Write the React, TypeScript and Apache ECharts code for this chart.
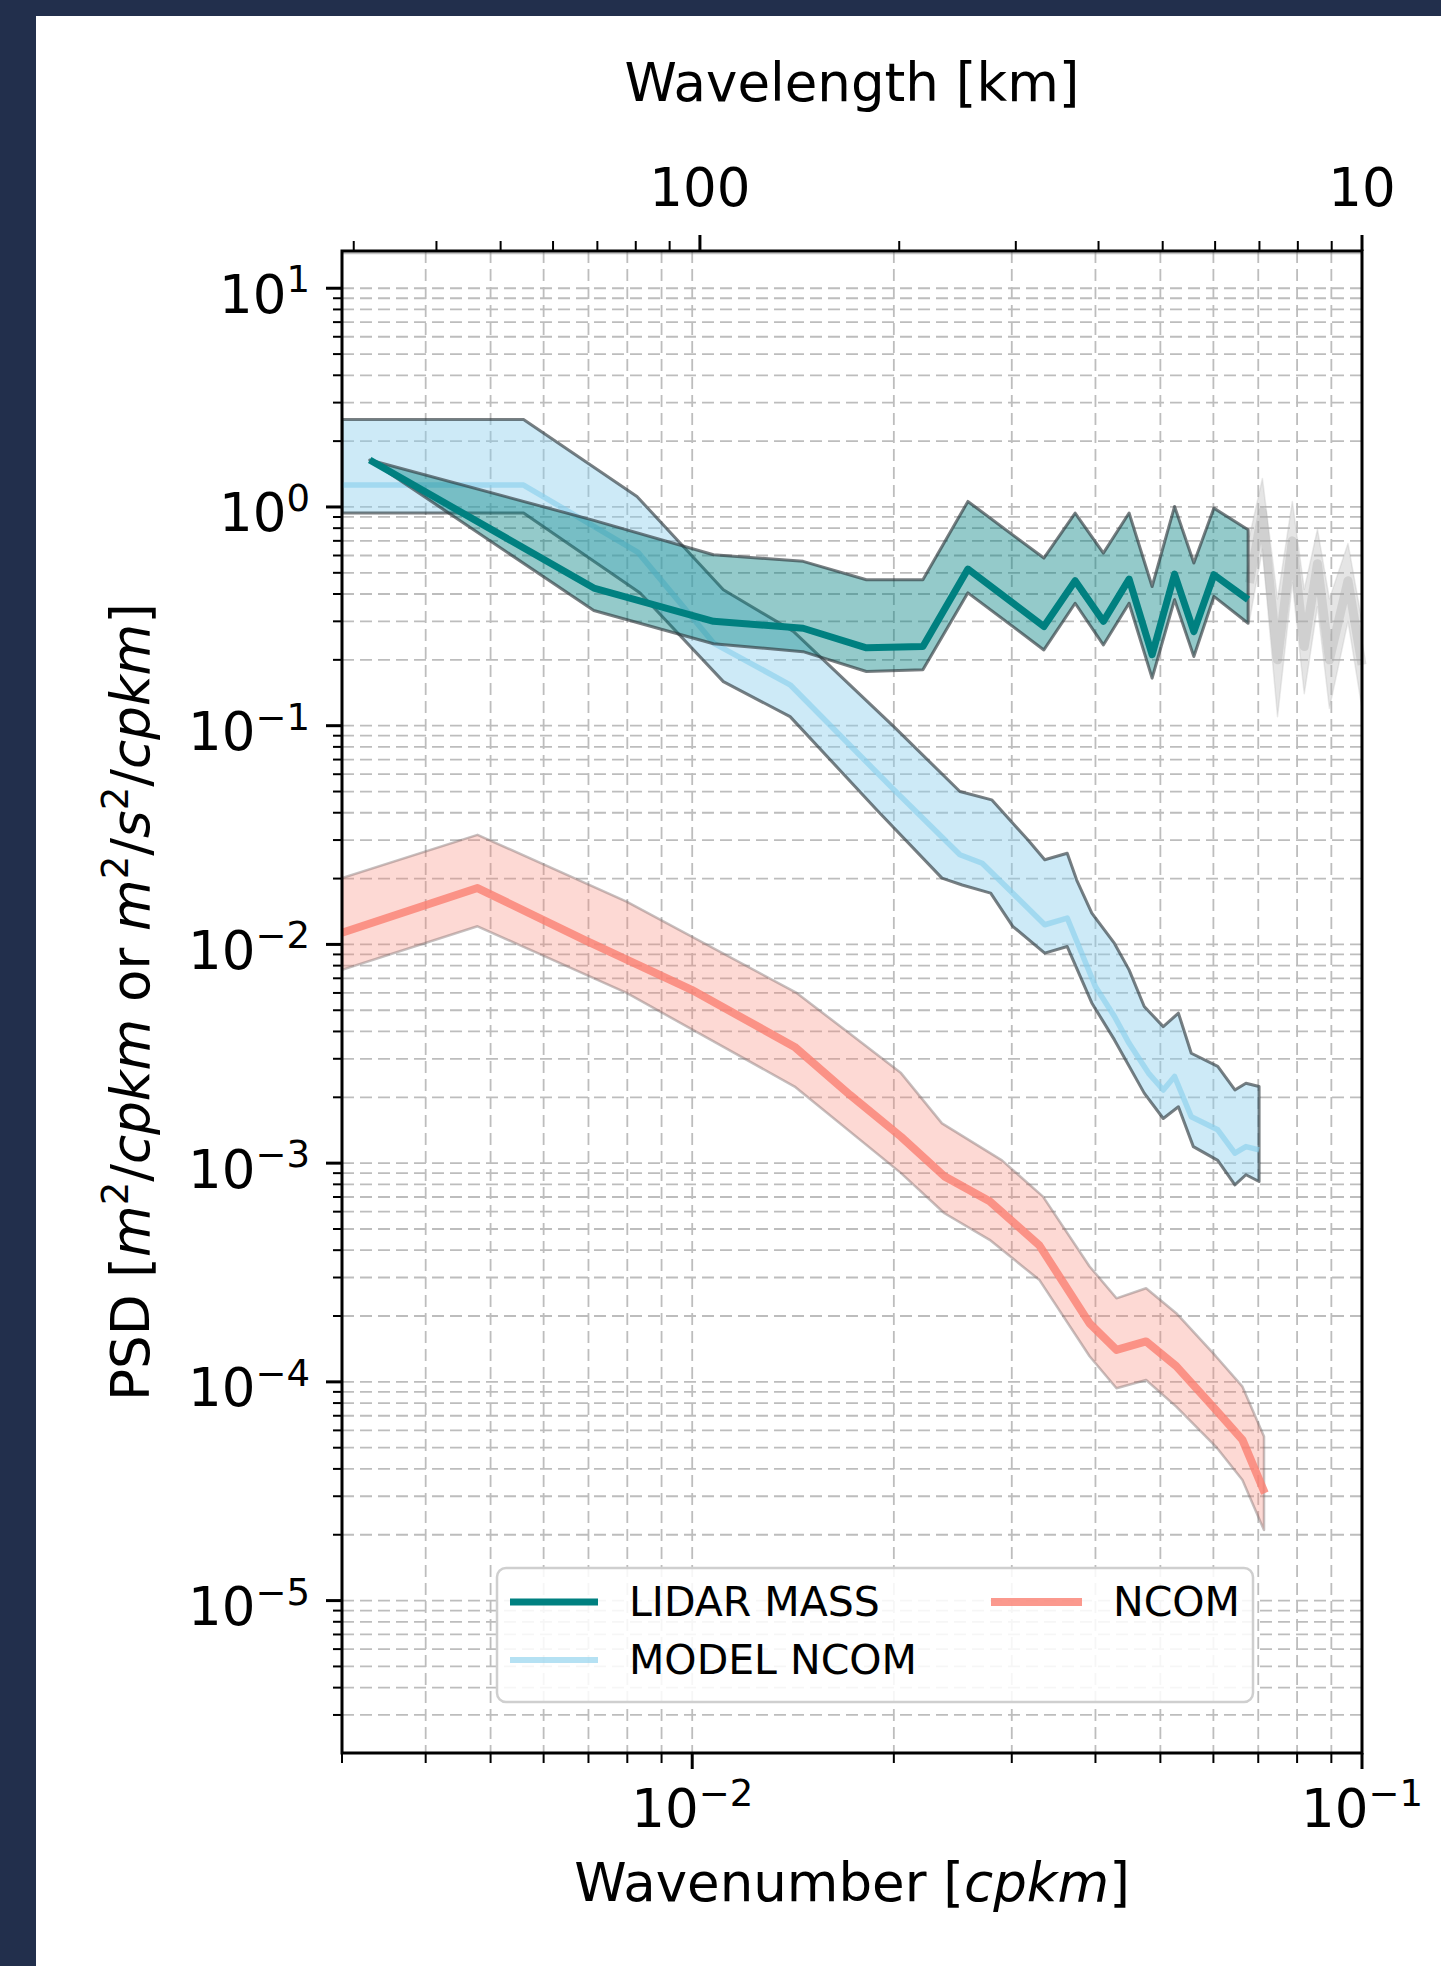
import React, { useEffect, useRef } from "react";
import * as echarts from "echarts";

const FONT = "'DejaVu Sans', 'Noto Sans', sans-serif";
const NAVY = "#222f4c";

// ---- axes ----
const X_MIN = 0.003;
const X_MAX = 0.1;
const X_TOP_MIN = 0.00288;
const Y_MIN = 2.01e-6;
const Y_MAX = 14.8;
const X_MAJOR = [0.01, 0.1];
const X_MINOR = [0.003, 0.004, 0.005, 0.006, 0.007, 0.008, 0.009, 0.02, 0.03, 0.04, 0.05, 0.06, 0.07, 0.08, 0.09];
const Y_MAJOR = [1e-5, 1e-4, 1e-3, 1e-2, 1e-1, 1, 10];
const Y_DECADES = [1e-6, 1e-5, 1e-4, 1e-3, 1e-2, 1e-1, 1, 10];
const MINOR_MULT = [2, 3, 4, 5, 6, 7, 8, 9];

// ---- data: [wavenumber cpkm, PSD] ----
const LIDAR_LINE = [[0.0033, 1.64], [0.00713, 0.426], [0.01076, 0.30], [0.01464, 0.279], [0.0182, 0.227], [0.0221, 0.23], [0.0258, 0.52], [0.0335, 0.284], [0.0373, 0.46], [0.0411, 0.30], [0.0449, 0.468], [0.0486, 0.211], [0.0525, 0.493], [0.0561, 0.269], [0.0601, 0.49], [0.0676, 0.377]];
const LIDAR_UPPER = [[0.0033, 1.64], [0.00713, 0.868], [0.01076, 0.605], [0.01464, 0.564], [0.0182, 0.465], [0.0221, 0.465], [0.0258, 1.06], [0.0335, 0.584], [0.0373, 0.938], [0.0411, 0.615], [0.0449, 0.938], [0.0486, 0.433], [0.0525, 1.005], [0.0561, 0.554], [0.0601, 0.988], [0.0676, 0.787]];
const LIDAR_LOWER = [[0.0033, 1.64], [0.00713, 0.336], [0.01076, 0.237], [0.01464, 0.218], [0.0182, 0.177], [0.0221, 0.18], [0.0258, 0.405], [0.0335, 0.222], [0.0373, 0.363], [0.0411, 0.234], [0.0449, 0.363], [0.0486, 0.165], [0.0525, 0.377], [0.0561, 0.207], [0.0601, 0.39], [0.0676, 0.294]];

const MODEL_LINE = [[0.003, 1.26], [0.0056, 1.26], [0.0083, 0.62], [0.01076, 0.2386], [0.014, 0.1538], [0.02, 0.051], [0.0251, 0.0257], [0.0271, 0.0235], [0.0336, 0.0123], [0.0363, 0.0132], [0.04, 0.0064], [0.0427, 0.00468], [0.0449, 0.00353], [0.048, 0.00258], [0.0505, 0.00216], [0.0525, 0.00249], [0.0556, 0.00163], [0.0609, 0.00142], [0.0646, 0.00111], [0.0671, 0.00119], [0.0702, 0.00115]];
const MODEL_UPPER = [[0.003, 2.51], [0.0056, 2.51], [0.00827, 1.117], [0.01113, 0.418], [0.01416, 0.27], [0.02, 0.099], [0.0251, 0.05], [0.028, 0.0458], [0.0317, 0.0301], [0.0336, 0.0244], [0.0363, 0.0261], [0.0375, 0.0197], [0.0395, 0.0139], [0.0427, 0.0101], [0.0449, 0.00765], [0.0473, 0.0052], [0.0505, 0.00421], [0.0532, 0.00485], [0.0556, 0.00318], [0.0609, 0.00277], [0.0646, 0.00216], [0.0671, 0.00232], [0.0702, 0.00224]];
const MODEL_LOWER = [[0.003, 0.938], [0.0056, 0.938], [0.00836, 0.404], [0.01113, 0.159], [0.014, 0.11], [0.01885, 0.0413], [0.0236, 0.0201], [0.0253, 0.0187], [0.0279, 0.01715], [0.0301, 0.0121], [0.0336, 0.00912], [0.0363, 0.00978], [0.0395, 0.0054], [0.0427, 0.00366], [0.0473, 0.00209], [0.0505, 0.0016], [0.0532, 0.00181], [0.056, 0.00119], [0.0609, 0.00103], [0.0646, 0.000795], [0.0671, 0.000885], [0.0702, 0.000824]];

const NCOM_LINE = [[0.003, 0.0113], [0.00478, 0.0181], [0.0069, 0.0105], [0.00998, 0.0062], [0.01422, 0.0034], [0.0172, 0.00205], [0.0205, 0.00132], [0.0238, 0.00087], [0.0278, 0.00067], [0.033, 0.00042], [0.0392, 0.000185], [0.043, 0.00014], [0.0476, 0.000153], [0.0528, 0.000118], [0.0605, 0.0000745], [0.0663, 0.0000543], [0.0716, 0.000031]];
const NCOM_UPPER = [[0.003, 0.0201], [0.00478, 0.0317], [0.00798, 0.0157], [0.01432, 0.006], [0.0172, 0.0039], [0.0205, 0.00258], [0.0236, 0.00152], [0.029, 0.00103], [0.0334, 0.000703], [0.0392, 0.000337], [0.043, 0.000241], [0.0476, 0.000268], [0.0528, 0.000206], [0.0605, 0.000131], [0.0663, 0.0000951], [0.0714, 0.0000562]];
const NCOM_LOWER = [[0.003, 0.00766], [0.00478, 0.0121], [0.00798, 0.006], [0.01422, 0.00224], [0.0205, 0.0009], [0.0238, 0.00059], [0.0278, 0.000446], [0.033, 0.000292], [0.0392, 0.000131], [0.043, 0.0000935], [0.0476, 0.000102], [0.0528, 0.0000771], [0.0605, 0.0000506], [0.0663, 0.0000356], [0.0714, 0.000021]];

const GRAY_UPPER = [[0.0676, 0.79], [0.0679, 0.73], [0.071, 1.35], [0.0748, 0.38], [0.0787, 1.06], [0.082, 0.42], [0.0858, 0.79], [0.0894, 0.38], [0.0953, 0.68], [0.1, 0.3]];
const GRAY_LOWER = [[0.0676, 0.294], [0.0679, 0.3], [0.071, 0.64], [0.0748, 0.11], [0.0787, 0.45], [0.082, 0.14], [0.0858, 0.35], [0.0894, 0.12], [0.0953, 0.3], [0.1, 0.12]];
const GRAY_MID = [[0.0679, 0.45], [0.071, 0.95], [0.0748, 0.2], [0.0787, 0.7], [0.082, 0.23], [0.0858, 0.55], [0.0894, 0.2], [0.0953, 0.46], [0.1, 0.19]];

const SERIES_NAMES = ["LIDAR MASS", "MODEL NCOM", "NCOM"];

// ---- colours ----
const TEAL = "#008080";
const MODEL_COLOR = "rgba(135,206,235,0.62)";
const NCOM_COLOR = "rgba(250,128,114,0.8)";
const EDGE_DARK = "rgba(45,55,60,0.64)";
const EDGE_NCOM = "rgba(120,105,105,0.42)";
const GRID_COLOR = "#bdbdbd";

const Y_MINOR = Y_DECADES.flatMap((d) => MINOR_MULT.map((m) => m * d)).filter((v) => v > Y_MIN && v < Y_MAX);

function supLabel(v: number) {
  const e = Math.log10(v);
  const r = Math.round(e);
  if (Math.abs(e - r) > 1e-6) return "";
  const s = r < 0 ? "\u2212" + -r : String(r);
  return "{b|10}{s|" + s + "}";
}

const richTick = {
  b: { fontSize: 53, lineHeight: 66, fontFamily: FONT, color: "#000", verticalAlign: "middle" },
  s: { fontSize: 37, lineHeight: 20, fontFamily: FONT, color: "#000", verticalAlign: "top" },
};

function bandRenderer(upper: number[][], lower: number[][], fill: string, stroke: string, lw: number) {
  return (params: any, api: any) => {
    const pts = upper.map((p) => api.coord(p)).concat(lower.slice().reverse().map((p) => api.coord(p)));
    return {
      type: "polygon",
      shape: { points: pts },
      style: { fill, stroke, lineWidth: lw, lineJoin: "round" },
    };
  };
}

function gridRenderer(params: any, api: any) {
  const cs = params.coordSys;
  const x0 = cs.x, x1 = cs.x + cs.width, y0 = cs.y, y1 = cs.y + cs.height;
  const kids: any[] = [];
  const gstyle = { stroke: GRID_COLOR, lineWidth: 1.8, lineDash: [12, 6] };
  [...X_MINOR, ...X_MAJOR].forEach((v) => {
    const px = api.coord([v, 1])[0];
    if (px > x0 + 2 && px < x1 - 2) kids.push({ type: "line", shape: { x1: px, y1: y0, x2: px, y2: y1 }, style: gstyle });
  });
  [...Y_MINOR, ...Y_MAJOR].forEach((v) => {
    const py = api.coord([0.01, v])[1];
    if (py > y0 + 2 && py < y1 - 2) kids.push({ type: "line", shape: { x1: x0, y1: py, x2: x1, y2: py }, style: gstyle });
  });
  X_MAJOR.forEach((v) => {
    const px = api.coord([v, 1])[0];
    kids.push({ type: "line", shape: { x1: px, y1: y1, x2: px, y2: y1 + 16 }, style: { stroke: "#000", lineWidth: 3 } });
  });
  X_MINOR.forEach((v) => {
    const px = api.coord([v, 1])[0];
    kids.push({ type: "line", shape: { x1: px, y1: y1, x2: px, y2: y1 + 10 }, style: { stroke: "#000", lineWidth: 2 } });
  });
  Y_MAJOR.forEach((v) => {
    const py = api.coord([0.01, v])[1];
    kids.push({ type: "line", shape: { x1: x0 - 16, y1: py, x2: x0, y2: py }, style: { stroke: "#000", lineWidth: 3 } });
  });
  Y_MINOR.forEach((v) => {
    const py = api.coord([0.01, v])[1];
    kids.push({ type: "line", shape: { x1: x0 - 9, y1: py, x2: x0, y2: py }, style: { stroke: "#000", lineWidth: 2 } });
  });
  return { type: "group", children: kids };
}

function topTickRenderer(params: any, api: any) {
  const cs = params.coordSys;
  const y0 = cs.y;
  const kids: any[] = [];
  X_MAJOR.forEach((v) => {
    const px = api.coord([v, 1])[0];
    kids.push({ type: "line", shape: { x1: px, y1: y0, x2: px, y2: y0 - 16 }, style: { stroke: "#000", lineWidth: 3 } });
  });
  X_MINOR.forEach((v) => {
    const px = api.coord([v, 1])[0];
    kids.push({ type: "line", shape: { x1: px, y1: y0, x2: px, y2: y0 - 10 }, style: { stroke: "#000", lineWidth: 2 } });
  });
  return { type: "group", children: kids };
}

function frameRenderer(params: any) {
  const cs = params.coordSys;
  return {
    type: "group",
    children: [
      { type: "line", shape: { x1: cs.x, y1: cs.y + 2.5, x2: cs.x + cs.width, y2: cs.y + 2.5 }, style: { stroke: "rgba(120,120,120,0.45)", lineWidth: 1.5 } },
      { type: "rect", shape: { x: cs.x, y: cs.y, width: cs.width, height: cs.height }, style: { fill: "none", stroke: "#000", lineWidth: 3 } },
    ],
  };
}

function lineSeries(name: string, data: number[][], color: string, width: number, z: number) {
  return {
    name,
    type: "line",
    data,
    showSymbol: false,
    symbol: "none",
    z,
    silent: true,
    lineStyle: { color, width, join: "round", cap: "butt" },
    itemStyle: { color },
  };
}

const LEG_X = 461, LEG_Y = 1552;

const option: any = {
  animation: false,
  backgroundColor: "#ffffff",
  textStyle: { fontFamily: FONT },
  grid: { left: 306, top: 235, width: 1020, height: 1502, containLabel: false },
  xAxis: [
    {
      type: "log",
      logBase: 10,
      position: "bottom",
      min: X_MIN,
      max: X_MAX,
      axisLine: { show: false },
      axisTick: { show: false },
      splitLine: { show: false },
      minorTick: { show: false },
      axisLabel: { formatter: supLabel, rich: richTick, margin: 22, color: "#000" },
      name: "Wavenumber [{i|cpkm}]",
      nameLocation: "middle",
      nameGap: 105,
      nameTextStyle: {
        fontSize: 53, lineHeight: 48, fontFamily: FONT, color: "#000",
        rich: { i: { fontSize: 53, lineHeight: 48, fontFamily: FONT, fontStyle: "italic", color: "#000" } },
      },
    },
    {
      type: "log",
      logBase: 10,
      position: "top",
      min: X_TOP_MIN,
      max: X_MAX,
      axisLine: { show: false },
      axisTick: { show: false },
      splitLine: { show: false },
      minorTick: { show: false },
      axisLabel: {
        formatter: (v: number) => {
          const e = Math.log10(v);
          if (Math.abs(e - Math.round(e)) > 1e-6) return "";
          return String(Math.round(1 / v));
        },
        fontSize: 53, lineHeight: 48, fontFamily: FONT, color: "#000", margin: 40,
      },
      name: "Wavelength [km]",
      nameLocation: "middle",
      nameGap: 145,
      nameTextStyle: { fontSize: 53, lineHeight: 48, fontFamily: FONT, color: "#000" },
    },
  ],
  yAxis: [
    {
      type: "log",
      logBase: 10,
      min: Y_MIN,
      max: Y_MAX,
      axisLine: { show: false },
      axisTick: { show: false },
      splitLine: { show: false },
      minorTick: { show: false },
      axisLabel: { formatter: supLabel, rich: richTick, margin: 32, padding: [12, 0, 0, 0], color: "#000" },
      name: "PSD [{i|m}{s|2}/{i|cpkm} or {i|m}{s|2}/{i|s}{s|2}/{i|cpkm}]",
      nameLocation: "middle",
      nameRotate: 90,
      nameGap: 179,
      nameTextStyle: {
        fontSize: 53, lineHeight: 66, fontFamily: FONT, color: "#000",
        rich: {
          i: { fontSize: 53, lineHeight: 66, fontFamily: FONT, fontStyle: "italic", color: "#000", verticalAlign: "middle" },
          s: { fontSize: 37, lineHeight: 20, fontFamily: FONT, color: "#000", verticalAlign: "top" },
        },
      },
    },
  ],
  series: [
    { type: "custom", name: "grid", silent: true, clip: false, z: 1, data: [[0.01, 1]], renderItem: gridRenderer },
    { type: "custom", name: "toptick", xAxisIndex: 1, silent: true, clip: false, z: 1, data: [[0.01, 1]], renderItem: topTickRenderer },
    { type: "custom", name: "gray band", silent: true, clip: true, z: 3, data: [[0.08, 0.4]], renderItem: bandRenderer(GRAY_UPPER, GRAY_LOWER, "rgba(175,175,175,0.32)", "rgba(175,175,175,0.25)", 1.5) },
    lineSeries("gray mid", GRAY_MID, "rgba(165,165,165,0.32)", 9, 3),
    { type: "custom", name: "model band", silent: true, clip: true, z: 3, data: [[0.01, 1]], renderItem: bandRenderer(MODEL_UPPER, MODEL_LOWER, "rgba(135,206,235,0.42)", EDGE_DARK, 3) },
    lineSeries(SERIES_NAMES[1], MODEL_LINE, MODEL_COLOR, 5.5, 4),
    { type: "custom", name: "lidar band", silent: true, clip: true, z: 5, data: [[0.01, 1]], renderItem: bandRenderer(LIDAR_UPPER, LIDAR_LOWER, "rgba(0,128,128,0.42)", EDGE_DARK, 3) },
    lineSeries(SERIES_NAMES[0], LIDAR_LINE, TEAL, 7, 6),
    { type: "custom", name: "ncom band", silent: true, clip: true, z: 3, data: [[0.01, 0.001]], renderItem: bandRenderer(NCOM_UPPER, NCOM_LOWER, "rgba(250,128,114,0.3)", EDGE_NCOM, 2.5) },
    lineSeries(SERIES_NAMES[2], NCOM_LINE, NCOM_COLOR, 8, 4),
    { type: "custom", name: "frame", silent: true, clip: false, z: 20, data: [[0.01, 1]], renderItem: frameRenderer },
  ],
  graphic: [
    {
      type: "group",
      z: 100,
      children: [
        { type: "rect", z: 100, shape: { x: LEG_X, y: LEG_Y, width: 756, height: 134, r: 9 }, style: { fill: "rgba(255,255,255,0.86)", stroke: "#cfcfcf", lineWidth: 2.5 } },
        { type: "line", z: 101, shape: { x1: LEG_X + 13, y1: LEG_Y + 34, x2: LEG_X + 101, y2: LEG_Y + 34 }, style: { stroke: TEAL, lineWidth: 7 } },
        { type: "line", z: 101, shape: { x1: LEG_X + 13, y1: LEG_Y + 92, x2: LEG_X + 101, y2: LEG_Y + 92 }, style: { stroke: MODEL_COLOR, lineWidth: 6 } },
        { type: "line", z: 101, shape: { x1: LEG_X + 494, y1: LEG_Y + 34, x2: LEG_X + 585, y2: LEG_Y + 34 }, style: { stroke: NCOM_COLOR, lineWidth: 8 } },
        { type: "text", z: 101, x: LEG_X + 132, y: LEG_Y + 34, style: { text: SERIES_NAMES[0], fontSize: 41, fontFamily: FONT, fill: "#000", align: "left", verticalAlign: "middle", textAlign: "left", textVerticalAlign: "middle" } },
        { type: "text", z: 101, x: LEG_X + 132, y: LEG_Y + 92, style: { text: SERIES_NAMES[1], fontSize: 41, fontFamily: FONT, fill: "#000", align: "left", verticalAlign: "middle", textAlign: "left", textVerticalAlign: "middle" } },
        { type: "text", z: 101, x: LEG_X + 616, y: LEG_Y + 34, style: { text: SERIES_NAMES[2], fontSize: 41, fontFamily: FONT, fill: "#000", align: "left", verticalAlign: "middle", textAlign: "left", textVerticalAlign: "middle" } },
      ],
    },
  ],
};

export default function App() {
  const ref = useRef<HTMLDivElement>(null);
  useEffect(() => {
    if (!ref.current) return;
    const chart = echarts.init(ref.current, null, { renderer: "svg" });
    chart.setOption(option);
    return () => chart.dispose();
  }, []);
  return (
    <div style={{ position: "absolute", left: 0, top: 0, width: 1441, height: 1966, background: NAVY, overflow: "hidden" }}>
      <div ref={ref} style={{ position: "absolute", left: 36, top: 16, width: 1405, height: 1950, background: "#ffffff" }} />
    </div>
  );
}
